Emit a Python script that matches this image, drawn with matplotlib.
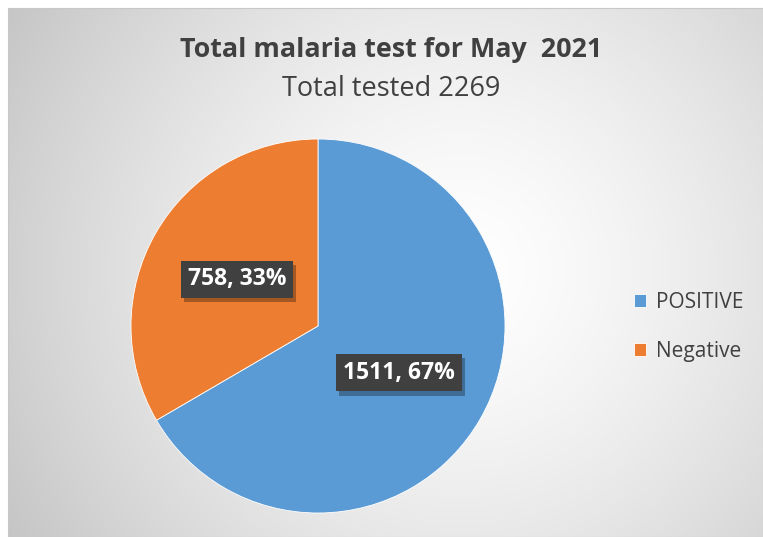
import numpy as np
import matplotlib.pyplot as plt
import matplotlib.patheffects as pe
from matplotlib.patches import Rectangle

# data
labels = ['POSITIVE', 'Negative']
counts = [1511, 758]
colors = ['#5B9BD5', '#ED7D31']
title = 'Total malaria test for May  2021'
subtitle = 'Total tested 2269'

W, H = 763, 537
fig = plt.figure(figsize=(W / 100, H / 100), dpi=100)
fig.patch.set_facecolor('white')

# background panel with radial gradient
bg = fig.add_axes([0, 0, 1, 1])
bg.set_xlim(0, W)
bg.set_ylim(H, 0)
bg.axis('off')
yy, xx = np.mgrid[0:H, 0:W]
d = np.sqrt((xx - 460) ** 2 + (yy - 270) ** 2) / 530
g = 1 - 0.23 * np.clip(d, 0, 1.2) ** 1.4
img = np.dstack([g, g, g])
panel = Rectangle((8, 8), W - 8, H - 8, facecolor='none', edgecolor='#c8c8c8', lw=0.8)
im = bg.imshow(img, extent=(0, W, H, 0), interpolation='bilinear')
bg.add_patch(panel)
im.set_clip_path(panel)

fig.text(391 / W, 1 - 50 / H, title, ha='center', va='center', fontsize=19.4,
         fontweight='bold', color='#404040', family='Open Sans')
fig.text(391 / W, 1 - 89 / H, subtitle, ha='center', va='center', fontsize=19.5,
         color='#404040', family='Open Sans')

# pie
cx, cy, r = 318, 326, 187
ax = fig.add_axes([(cx - r) / W, (H - cy - r) / H, 2 * r / W, 2 * r / H])
total = sum(counts)
wedges, texts, autotexts = ax.pie(
    counts, colors=colors, startangle=90, counterclock=False,
    autopct=lambda p: '{:d}, {:.0f}%'.format(int(round(p * total / 100)), p),
    pctdistance=0.5, wedgeprops=dict(edgecolor='white', linewidth=0.6),
    textprops=dict(color='white', fontsize=16.5, fontweight='bold', family='Open Sans'))
ax.set_xlim(-1, 1)
ax.set_ylim(-1, 1)
ax.set_aspect('equal')
for t in autotexts:
    t.set_bbox(dict(boxstyle='square,pad=0.3', facecolor='#404040', edgecolor='none'))
    t.get_bbox_patch().set_path_effects([
        pe.SimplePatchShadow(offset=(2, -3), shadow_rgbFace='black', alpha=0.3),
        pe.Normal()])

fig.legend(wedges, labels, loc='center left', bbox_to_anchor=(615 / W, 1 - 327 / H),
           frameon=False, handlelength=0.6, handleheight=0.6, handletextpad=0.45,
           labelspacing=1.35, prop=dict(family='Open Sans', size=15), labelcolor='#404040')

fig.savefig('out.png', dpi=100)
